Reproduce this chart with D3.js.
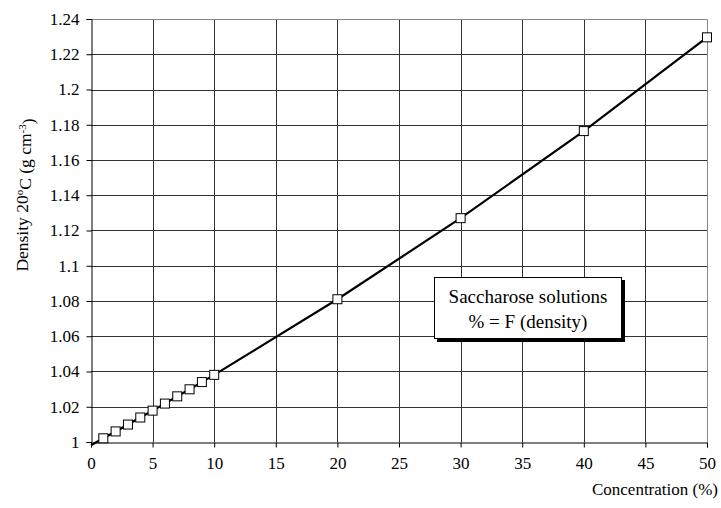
<!DOCTYPE html>
<html>
<head>
<meta charset="utf-8">
<script src="https://cdn.jsdelivr.net/npm/d3@7"></script>
<style>
body { margin: 0; background: #fff; }
svg text { font-family: "Liberation Serif", Tinos, "Times New Roman", Times, "DejaVu Serif", serif; fill: #000; }
</style>
</head>
<body>
<div id="chart"></div>
<script>
// saccharose solution density at 20C
let concentration = [0, 1, 2, 3, 4, 5, 6, 7, 8, 9, 10, 20, 30, 40, 50];
let density = [0.9982, 1.0021, 1.0060, 1.0099, 1.0139, 1.0178, 1.0218, 1.0259, 1.0299, 1.0340, 1.0381, 1.0810, 1.1270, 1.1764, 1.2296];
let xTicks = [0, 5, 10, 15, 20, 25, 30, 35, 40, 45, 50];
let yTicks = [1, 1.02, 1.04, 1.06, 1.08, 1.1, 1.12, 1.14, 1.16, 1.18, 1.2, 1.22, 1.24];

let width = 721, height = 508;
let pLeft = 91, pRight = 707, pTop = 19, pBottom = 442;
let serif = '"Liberation Serif", Tinos, "Times New Roman", Times, "DejaVu Serif", serif';

let xScale = d3.scaleLinear().domain([0, 50]).range([pLeft, pRight]);
let yScale = d3.scaleLinear().domain([1, 1.24]).range([pBottom, pTop]);

let svg = d3.select('#chart').append('svg')
    .attr('width', width)
    .attr('height', height)
    .attr('font-family', serif);

// grid
let grid = svg.append('g').attr('id', 'grid');
grid.selectAll('line.v')
    .data(xTicks.slice(1, -1))
    .enter()
    .append('line')
    .attr('class', 'v')
    .attr('x1', d => Math.round(xScale(d)) + 0.5)
    .attr('x2', d => Math.round(xScale(d)) + 0.5)
    .attr('y1', pTop)
    .attr('y2', pBottom)
    .attr('stroke', '#333');
grid.selectAll('line.h')
    .data(yTicks.slice(1, -1))
    .enter()
    .append('line')
    .attr('class', 'h')
    .attr('x1', pLeft)
    .attr('x2', pRight)
    .attr('y1', d => Math.round(yScale(d)) + 0.5)
    .attr('y2', d => Math.round(yScale(d)) + 0.5)
    .attr('stroke', '#333');

// top / right frame
svg.append('path')
    .attr('d', 'M' + pLeft + ',' + (pTop + 0.5) + 'H' + (pRight + 0.5) + 'V' + pBottom)
    .attr('fill', 'none')
    .attr('stroke', '#888');

// axes
let xAxis = d3.axisBottom(xScale).tickValues(xTicks).tickSize(5).tickPadding(9);
let yAxis = d3.axisLeft(yScale).tickValues(yTicks).tickSize(5).tickPadding(7)
    .tickFormat(d => String(+d.toFixed(2)));

let gx = svg.append('g')
    .attr('transform', 'translate(0,' + (pBottom + 0.5) + ')')
    .call(xAxis);
let gy = svg.append('g')
    .attr('transform', 'translate(' + (pLeft + 0.5) + ',0)')
    .call(yAxis);

[gx, gy].forEach(g => {
    g.attr('font-family', serif).attr('font-size', 17);
    g.select('.domain').attr('stroke', '#000');
    g.selectAll('.tick line').attr('stroke', '#000');
    g.selectAll('.tick text').attr('fill', '#000');
});

// line
let line = d3.line()
    .x((d, i) => xScale(concentration[i]))
    .y(d => yScale(d));

svg.append('path')
    .datum(density)
    .attr('d', line)
    .attr('fill', 'none')
    .attr('stroke', '#000')
    .attr('stroke-width', 2.2);

// markers (not at 0)
let ms = 9;
svg.selectAll('rect.marker')
    .data(density.slice(1))
    .enter()
    .append('rect')
    .attr('class', 'marker')
    .attr('x', (d, i) => xScale(concentration[i + 1]) - ms / 2)
    .attr('y', d => yScale(d) - ms / 2)
    .attr('width', ms)
    .attr('height', ms)
    .attr('fill', '#fff')
    .attr('stroke', '#000')
    .attr('stroke-width', 1);

// legend box
let lg = svg.append('g').attr('id', 'legendBox');
lg.append('rect')
    .attr('x', 437)
    .attr('y', 280)
    .attr('width', 188)
    .attr('height', 62)
    .attr('fill', '#000');
lg.append('rect')
    .attr('x', 434.5)
    .attr('y', 277.5)
    .attr('width', 187)
    .attr('height', 61)
    .attr('fill', '#fff')
    .attr('stroke', '#000');
lg.append('text')
    .text('Saccharose solutions')
    .attr('x', 528)
    .attr('y', 303)
    .attr('text-anchor', 'middle')
    .style('font-size', '19px');
lg.append('text')
    .text('% = F (density)')
    .attr('x', 528)
    .attr('y', 328)
    .attr('text-anchor', 'middle')
    .style('font-size', '19px');

// axis titles
svg.append('text')
    .text('Concentration (%)')
    .attr('x', 718)
    .attr('y', 495)
    .attr('text-anchor', 'end')
    .style('font-size', '17px');

let yt = svg.append('text')
    .attr('transform', 'translate(28,195) rotate(-90)')
    .attr('text-anchor', 'middle')
    .style('font-size', '17.5px');
yt.append('tspan').text('Density 20');
yt.append('tspan').text('o').attr('dy', '-0.45em').style('font-size', '11px');
yt.append('tspan').text('C (g cm').attr('dy', '0.45em');
yt.append('tspan').text('-3').attr('dy', '-0.45em').style('font-size', '11px');
yt.append('tspan').text(')').attr('dy', '0.45em');
</script>
</body>
</html>
